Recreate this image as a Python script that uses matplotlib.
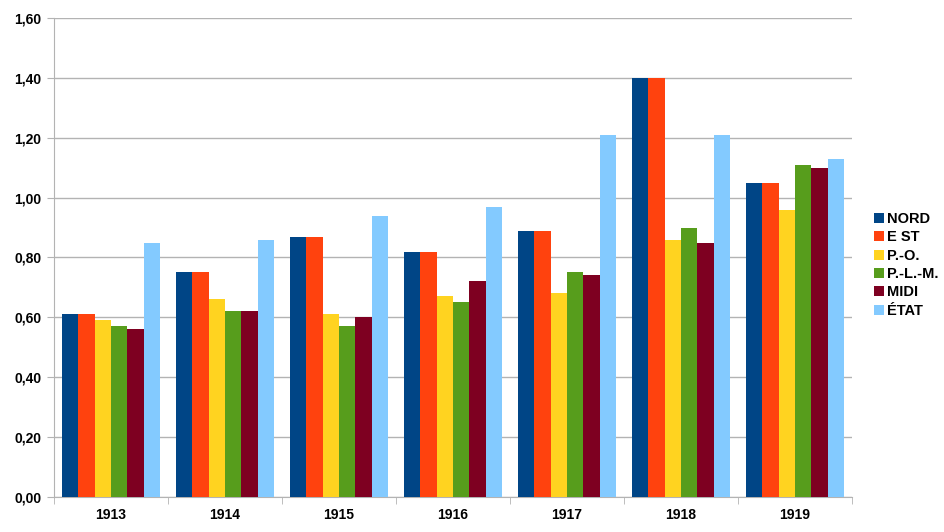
import numpy as np
import matplotlib.pyplot as plt

plt.rcParams['font.family'] = ['Liberation Sans', 'DejaVu Sans']

# Données
annees = ["1913", "1914", "1915", "1916", "1917", "1918", "1919"]
reseaux = ["NORD", "E ST", "P.-O.", "P.-L.-M.", "MIDI", "ÉTAT"]
nord = [0.61, 0.75, 0.87, 0.82, 0.89, 1.40, 1.05]
est = [0.61, 0.75, 0.87, 0.82, 0.89, 1.40, 1.05]
po = [0.59, 0.66, 0.61, 0.67, 0.68, 0.86, 0.96]
plm = [0.57, 0.62, 0.57, 0.65, 0.75, 0.90, 1.11]
midi = [0.56, 0.62, 0.60, 0.72, 0.74, 0.85, 1.10]
etat = [0.85, 0.86, 0.94, 0.97, 1.21, 1.21, 1.13]
couleurs = ["#004586", "#ff420e", "#ffd320", "#579d1c", "#7e0021", "#83caff"]

series = [nord, est, po, plm, midi, etat]

fig = plt.figure(figsize=(9.44, 5.32), dpi=100)
ax = fig.add_axes([0.0572, 0.0658, 0.8453, 0.9004])

x = np.arange(len(annees))
largeur = 0.86 / len(series)
for i, (vals, nom, c) in enumerate(zip(series, reseaux, couleurs)):
    ax.bar(x - 0.43 + largeur * (i + 0.5), vals, largeur, color=c, label=nom,
           zorder=3)

ax.set_xlim(-0.5, len(annees) - 0.5)
ax.set_ylim(0, 1.6)
ax.set_yticks(np.arange(0, 1.61, 0.2))
ax.set_yticklabels([f"{v:.2f}".replace(".", ",") for v in np.arange(0, 1.61, 0.2)],
                   fontsize=10, fontweight="bold")
ax.set_xticks(x)
ax.set_xticklabels(annees, fontsize=10, fontweight="bold")
ax.tick_params(axis="x", length=0, pad=8)
ax.set_xticks(np.arange(-0.5, len(annees), 1), minor=True)
ax.tick_params(axis="x", which="minor", length=5, color="#b3b3b3")
ax.tick_params(axis="y", length=5, color="#b3b3b3", pad=4)
ax.yaxis.grid(True, color="#b3b3b3", linewidth=1, zorder=0)
for s in ["top", "right"]:
    ax.spines[s].set_visible(False)
for s in ["left", "bottom"]:
    ax.spines[s].set_color("#b3b3b3")

fig.legend(loc="center left", bbox_to_anchor=(0.912, 0.502), frameon=False,
           prop={"size": 10.5, "weight": "bold"}, handlelength=0.7,
           handleheight=0.7, handletextpad=0.2, labelspacing=0.3)

fig.savefig("out.png", dpi=100)
